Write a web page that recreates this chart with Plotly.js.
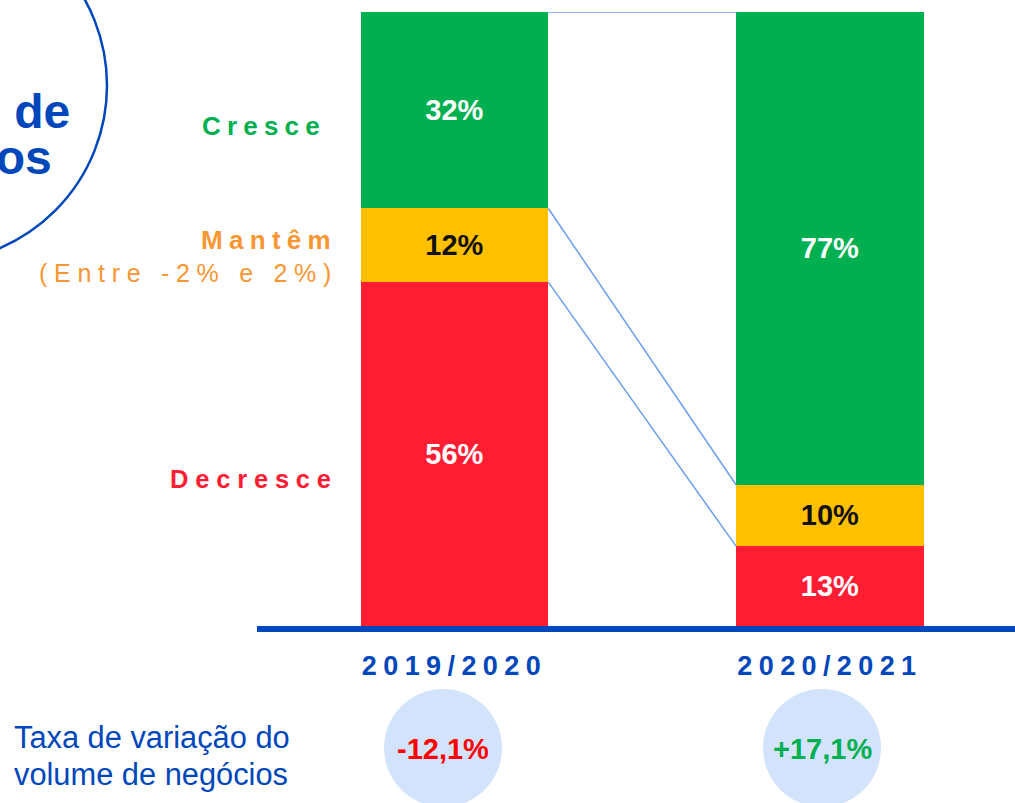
<!DOCTYPE html>
<html><head><meta charset="utf-8">
<script src="https://cdn.plot.ly/plotly-3.0.1.min.js"></script>
<style>html,body{margin:0;padding:0;background:#fff}</style>
</head><body><div id="chart" style="width:1015px;height:803px"></div>
<script>
// ---- data ----
const periods = ['2019/2020', '2020/2021'];
const decresce = [56, 13];
const mantem = [12, 10];
const cresce = [32, 77];
const seriesNames = ['Decresce', 'Mantêm', 'Cresce'];
const mantemNote = '(Entre -2% e 2%)';
const variation = ['-12,1%', '+17,1%'];
const variationLabel = ['Taxa de variação do', 'volume de negócios'];
const circleTitle = ['Volume de', 'negócios'];

// ---- style ----
const FONT = 'Liberation Sans, Arial, sans-serif';
const BLUE = '#0047BB';
const GREEN = '#00B050', YELLOW = '#FFC000', RED = '#FF1D34', ORANGE = '#F79633';
const W = 1015, H = 803, L = 257, R = 0, T = 12, B = 177;
const pw = W - L - R, ph = H - T - B;
const px = x => (x - L) / pw;
const py = y => (H - B - y) / ph;
const barWidth = 0.5;
const ls = (t, s) => `<span style="letter-spacing:${s}px">${t}</span>`;

const series = [
  {name: seriesNames[0], y: decresce, color: RED, txt: '#FFFFFF'},
  {name: seriesNames[1], y: mantem, color: YELLOW, txt: '#111111'},
  {name: seriesNames[2], y: cresce, color: GREEN, txt: '#FFFFFF'}
];

const traces = series.map(s => ({
  type: 'bar', x: periods, y: s.y, name: s.name,
  marker: {color: s.color, line: {width: 0}},
  texttemplate: '%{y}%', textposition: 'inside', insidetextanchor: 'middle',
  textangle: 0, constraintext: 'none',
  textfont: {family: FONT, size: 29, color: s.txt, weight: 'bold'},
  hoverinfo: 'skip', showlegend: false
}));

// connector lines between stack boundaries
const shapes = [];
let cum = [0, 0];
series.forEach(s => {
  cum = cum.map((c, i) => c + s.y[i]);
  shapes.push({type: 'line', xref: 'x', yref: 'y',
    x0: 0 + barWidth / 2, x1: 1 - barWidth / 2, y0: cum[0], y1: cum[1],
    line: {color: '#6A9FEF', width: 1.5}, layer: 'above'});
});

// circles at bottom
const circleCx = [443, 822];
circleCx.forEach(cx => shapes.push({type: 'circle', xref: 'paper', yref: 'paper',
  xsizemode: 'pixel', ysizemode: 'pixel', xanchor: px(cx), yanchor: py(748),
  x0: -59, x1: 59, y0: -59, y1: 59, fillcolor: '#D3E3FB', line: {width: 0}, layer: 'below'}));
// big outlined circle top-left
shapes.push({type: 'circle', xref: 'paper', yref: 'paper',
  xsizemode: 'pixel', ysizemode: 'pixel', xanchor: px(-70), yanchor: py(85.5),
  x0: -177, x1: 177, y0: -177, y1: 177, fillcolor: 'rgba(0,0,0,0)',
  line: {color: BLUE, width: 2.5}, layer: 'below'});

const ann = (text, x, y, xanchor, font) => ({text, xref: 'paper', yref: 'paper',
  x: px(x), y: py(y), xanchor, yanchor: 'middle', showarrow: false, font: Object.assign({family: FONT}, font)});

const annotations = [
  ann(ls(seriesNames[2], 6.2), 328.2, 126.3, 'right', {size: 26, color: GREEN, weight: 'bold'}),
  ann(ls(seriesNames[1], 6.3), 339.3, 239.6, 'right', {size: 26, color: ORANGE, weight: 'bold'}),
  ann(ls(mantemNote, 6.7), 339.7, 273, 'right', {size: 25, color: ORANGE}),
  ann(ls(seriesNames[0], 6.8), 340, 479.3, 'right', {size: 25.5, color: RED, weight: 'bold'}),
  ann(variation[0], circleCx[0], 749, 'center', {size: 29, color: '#FF0000', weight: 'bold'}),
  ann(variation[1], circleCx[1], 749, 'center', {size: 29, color: GREEN, weight: 'bold'}),
  ann(variationLabel[0], 12, 737.9, 'left', {size: 30.8, color: BLUE}),
  ann(variationLabel[1], 12, 774.6, 'left', {size: 30.8, color: BLUE}),
  ann(circleTitle[0], 72, 112, 'right', {size: 48, color: BLUE, weight: 'bold'}),
  ann(circleTitle[1], 53.5, 157, 'right', {size: 48, color: BLUE, weight: 'bold'})
];

const layout = {
  width: W, height: H,
  margin: {l: L, r: R, t: T, b: B, pad: 0},
  paper_bgcolor: '#FFFFFF', plot_bgcolor: 'rgba(0,0,0,0)',
  barmode: 'stack', bargap: 1 - barWidth,
  xaxis: {type: 'category', range: [-0.526, 1.493], fixedrange: true,
    showline: true, linecolor: BLUE, linewidth: 6, showgrid: false, zeroline: false,
    ticks: '', tickvals: periods, ticktext: periods.map(p => ls(p, 6.4)),
    tickfont: {family: FONT, size: 27, color: BLUE, weight: 'bold'}, ticklabelstandoff: 11},
  yaxis: {range: [0, 100], visible: false, fixedrange: true},
  shapes, annotations, showlegend: false
};

Plotly.newPlot('chart', traces, layout, {displayModeBar: false, staticPlot: true});
</script></body></html>
